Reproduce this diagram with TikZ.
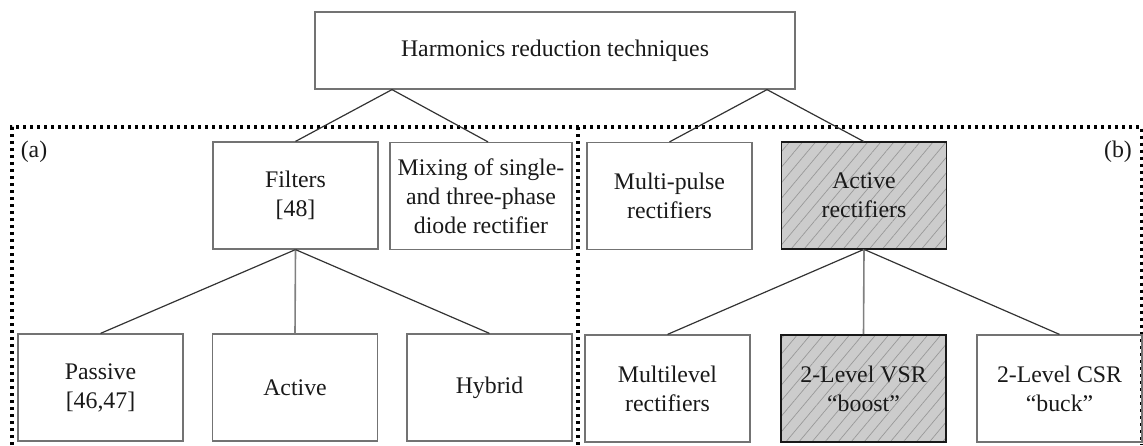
\documentclass[tikz,border=0pt]{standalone}
\usepackage{fontspec}
\setmainfont{Liberation Serif}
\usetikzlibrary{positioning,patterns.meta}

\tikzset{
  box/.style={rectangle, draw=black!55, line width=0.6pt, align=center, text=black!90,
    font=\fontsize{11.9}{14.5}\selectfont, inner sep=0pt},
  midbox/.style={box, minimum width=82.5pt, minimum height=53.5pt},
  hatched/.style={draw=black!90, line width=0.8pt, preaction={fill=black!20},
    pattern={Lines[angle=50,distance=5pt,line width=0.35pt]}, pattern color=black!40},
  link/.style={draw=black!80, line width=0.6pt},
  stem/.style={draw=black!50, line width=0.8pt},
  frame/.style={line width=1.8pt, dash pattern=on 1.5pt off 2pt},
  lbl/.style={text=black!90, font=\fontsize{11.9}{14.5}\selectfont, inner sep=0pt}
}

\begin{document}
\begin{tikzpicture}[x=0.5pt, y=-0.5pt, node distance=97.25pt and 97.25pt, on grid]
\useasboundingbox (0,0) rectangle (1143,445);

% dotted frames (a) and (b)
\draw[frame] (12,445) -- (12,127) -- (1141.5,127) -- (1141.5,445);
\draw[frame] (578,127) -- (578,445);
\node[lbl] (la) at (34,152) {(a)};
\node[lbl] (lb) at (1118,152) {(b)};

% root
\node[box, minimum width=240pt, minimum height=38.5pt] (top) at (555,50.5) {Harmonics reduction techniques};

% second level
\node[midbox] (filt) at (295.5,195.5) {Filters\\{[48]}};
\node[midbox, minimum width=91pt] (mix) at (481,196) {Mixing of single-\\and three-phase\\diode rectifier};
\node[midbox] (mpulse) at (669.5,196) {Multi-pulse\\rectifiers};
\node[midbox, hatched] (actrect) at (864,195.5) {Active\\rectifiers};

% third level
\node[midbox] (pas) at (100.5,387.5) {Passive\\{[46,47]}};
\node[midbox] (act) [right=of pas] {Active};
\node[midbox] (hyb) [right=of act] {Hybrid};
\node[midbox] (mlev) at (667.5,388.5) {Multilevel\\rectifiers};
\node[midbox, hatched] (vsr) [right=98pt of mlev] {2-Level VSR\\“boost”};
\node[midbox] (csr) [right=98pt of vsr] {2-Level CSR\\“buck”};

% connectors
\coordinate (tl) at ([xshift=-81.5pt]top.south);
\coordinate (tr) at ([xshift=106pt]top.south);
\draw[link] (tl) -- ([xshift=3.5pt]mix.north);
\draw[link] (tl) -- (filt.north);
\draw[link] (tr) -- (mpulse.north);
\draw[link] (tr) -- (actrect.north);

\draw[link] (filt.south) -- (pas.north);
\draw[stem] (filt.south) -- (act.north);
\draw[link] (filt.south) -- (hyb.north);
\draw[link] (actrect.south) -- (mlev.north);
\draw[stem] (actrect.south) -- (vsr.north);
\draw[link] (actrect.south) -- (csr.north);
\end{tikzpicture}
\end{document}
